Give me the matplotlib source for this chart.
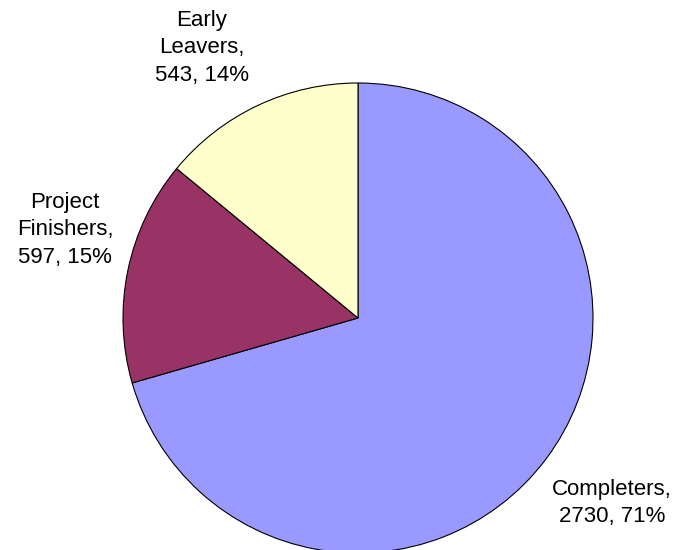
import matplotlib
matplotlib.use("Agg")
import matplotlib.pyplot as plt

# pie data, clockwise from 12 o'clock
groups = ["Completers", "Project Finishers", "Early Leavers"]
counts = [2730, 597, 543]
colors = ["#9999FF", "#993366", "#FFFFCC"]

# label block centres in pixels (x from left, y from top)
label_pos = [(612, 503), (65, 230), (202, 48)]

W, H = 677, 550
plt.rcParams["font.family"] = ["Liberation Sans", "DejaVu Sans"]

fig = plt.figure(figsize=(W / 100, H / 100), dpi=100)
ax = fig.add_axes([0, 0, 1, 1])

# pie centre and radius in pixels
cx, cy, r = 358, H - 318, 235
ax.pie(counts, colors=colors, startangle=90, counterclock=False,
       center=(cx, cy), radius=r, frame=True,
       wedgeprops=dict(edgecolor="black", linewidth=0.8))
ax.set_xlim(0, W)
ax.set_ylim(0, H)
ax.set_aspect("equal")
ax.axis("off")

total = sum(counts)
for name, n, (px, py) in zip(groups, counts, label_pos):
    pct = round(100 * n / total)
    words = name.split()
    if len(words) > 1:
        txt = "\n".join(words[:-1]) + "\n" + words[-1] + ",\n%d, %d%%" % (n, pct)
    else:
        txt = name + ",\n%d, %d%%" % (n, pct)
    ax.text(px, H - py, txt, ha="center", va="center", fontsize=16,
            linespacing=1.38)

fig.savefig("out.png", dpi=100, facecolor="white")
